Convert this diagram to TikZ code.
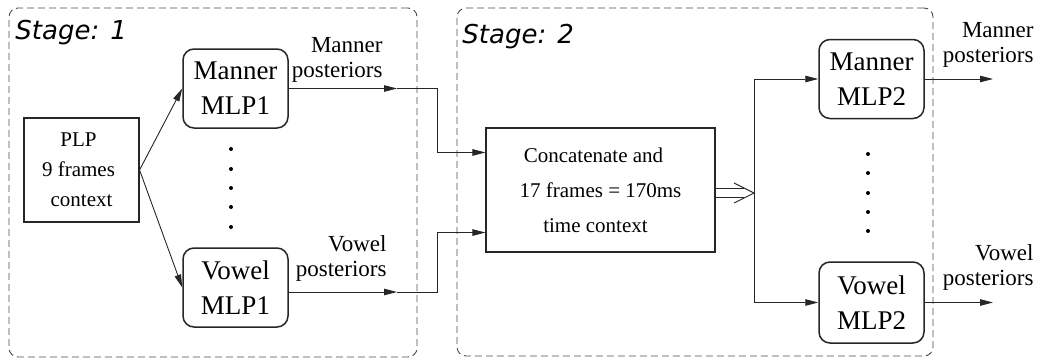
\documentclass[tikz,border=0pt]{standalone}
\usepackage{fontspec}
\setmainfont{Liberation Serif}
\newfontfamily\stagefont{DejaVu Sans}[ItalicFont={DejaVu Sans Oblique}]
\usetikzlibrary{arrows.meta,calc}
\begin{document}
\begin{tikzpicture}[x=1pt,y=-1pt,line width=0.9pt,draw=black!85,
  arr/.style={-{Triangle[length=13pt,width=6.5pt]}},
  stageframe/.style={draw=black!70, dash pattern=on 7pt off 4pt, rounded corners=9pt, line width=0.9pt, inner sep=0pt},
  stagelbl/.style={anchor=base west, inner sep=0pt, font=\stagefont\itshape\fontsize{26}{30}\selectfont},
  mlp/.style={draw, rounded corners=11pt, line width=1.5pt, minimum width=105pt, minimum height=79pt, inner sep=0pt, align=center, font=\fontsize{27}{35}\selectfont},
  plainbox/.style={draw, line width=1.1pt, inner sep=0pt, align=center},
  lbl/.style={align=right, inner sep=0pt, font=\fontsize{23}{25}\selectfont},
  dot/.style={circle, fill=black, inner sep=0pt, minimum size=4pt}
]
\useasboundingbox (0,0) rectangle (1039,359);

% stage frames
\node[stageframe, minimum width=408pt, minimum height=349pt] (st1) at (213,182.5) {};
\node[stageframe, minimum width=476pt, minimum height=348pt] (st2) at (695,182) {};
\node[stagelbl] (st1lbl) at (15,39) {Stage: 1};
\node[stagelbl] (st2lbl) at (462,43) {Stage: 2};

% boxes
\node[plainbox, minimum width=115pt, minimum height=104pt, font=\fontsize{21}{30}\selectfont] (plp) at (81.5,170) {\hspace*{-6pt}PLP\\\hspace*{-6pt}9 frames\\context};
\node[mlp] (mm1) at (235.5,88.5) {Manner\\MLP1};
\node[mlp] (vm1) at (235.5,287.5) {Vowel\\MLP1};
\node[plainbox, minimum width=229pt, minimum height=124pt, font=\fontsize{21}{35}\selectfont] (concat) at (600.5,190) {\hspace*{-14pt}Concatenate and\\17 frames = 170ms\\\hspace*{-10pt}time context};
\node[mlp] (mm2) at (871.5,79) {Manner\\MLP2};
\node[mlp, minimum height=81pt] (vm2) at (871.5,302.5) {Vowel\\MLP2};

% dots
\foreach \y [count=\i] in {149,169,188,207,227} \node[dot] (da\i) at (231,\y) {};
\foreach \y [count=\i] in {154,173,193,212,231} \node[dot] (db\i) at (868,\y) {};

% labels (base anchor = baseline of last line)
\node[lbl, anchor=base east] (mpost1) at (383,77) {Manner\\posteriors};
\node[lbl, anchor=base east] (vpost1) at (387,276) {Vowel\\posteriors};
\node[lbl, anchor=base east] (mpost2) at (1034,62) {Manner\\posteriors};
\node[lbl, anchor=base east] (vpost2) at (1034,285) {Vowel\\posteriors};

% coordinates
\coordinate (mt1) at (397,88.5);
\coordinate (vt1) at (397,292);
\coordinate (split) at (754,193);
\coordinate (mo) at (993,79);
\coordinate (vo) at (993,302.5);

% connectors
\draw[arr] (plp.east) -- (mm1.west);
\draw[arr] (plp.east) -- (vm1.west);
\draw[arr] (mm1.east) -- (mt1);
\draw[arr] (vm1.east |- vt1) -- (vt1);
\draw[arr] (mt1) -- ++(40,0) |- ($(concat.north west)!0.2!(concat.south west)$);
\draw[arr] (vt1) -- ++(40,0) |- ($(concat.north west)!0.84!(concat.south west)$);
\draw[double distance=8pt, line width=0.9pt] (concat.east |- split) -- ++(28,0);
\draw (split) ++(-20,-10) -- (split) -- ++(-20,10);
\draw[arr] (split) |- (mm2.west);
\draw[arr] (split) |- (vm2.west);
\draw[arr] (mm2.east) -- (mo);
\draw[arr] (vm2.east) -- (vo);
\end{tikzpicture}
\end{document}
